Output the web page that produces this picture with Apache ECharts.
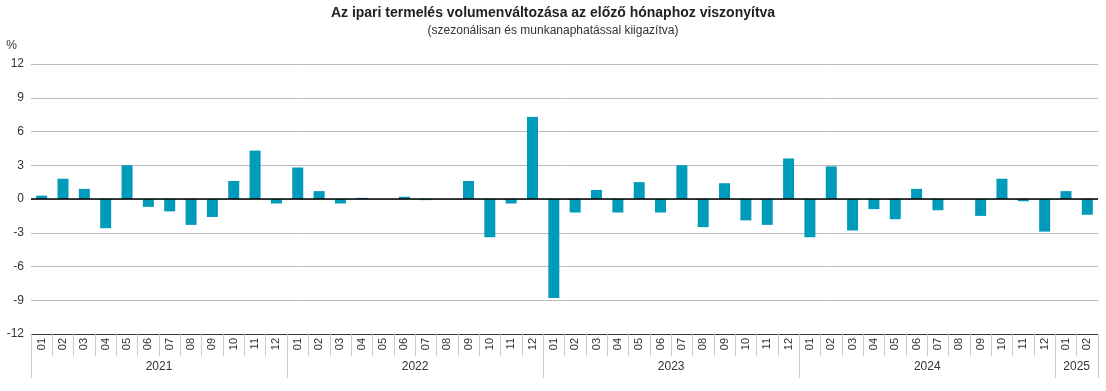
<!DOCTYPE html>
<html><head><meta charset="utf-8">
<script src="https://cdn.jsdelivr.net/npm/echarts@6/dist/echarts.min.js"></script>
<style>html,body{margin:0;padding:0;background:#fff}#c{width:1106px;height:391px}</style>
</head><body><div id="c"></div>
<script>
const months = ['01','02','03','04','05','06','07','08','09','10','11','12',
 '01','02','03','04','05','06','07','08','09','10','11','12',
 '01','02','03','04','05','06','07','08','09','10','11','12',
 '01','02','03','04','05','06','07','08','09','10','11','12',
 '01','02'];
const years = ['2021','2022','2023','2024','2025'];
const yearCenters = [6,18,30,42,49];
const values2021 = [0.3,1.8,0.9,-2.6,3.0,-0.7,-1.1,-2.3,-1.6,1.6,4.3,-0.4];
const values2022 = [2.8,0.7,-0.4,0.1,0.0,0.2,-0.1,0.0,1.6,-3.4,-0.4,7.3];
const values2023 = [-8.8,-1.2,0.8,-1.2,1.5,-1.2,3.0,-2.5,1.4,-1.9,-2.3,3.6];
const values2024 = [-3.4,2.9,-2.8,-0.9,-1.8,0.9,-1.0,0.0,-1.5,1.8,-0.2,-2.9];
const values2025 = [0.7,-1.4];
const values = [].concat(values2021,values2022,values2023,values2024,values2025);
const yTicks = [-12,-9,-6,-3,0,3,6,9,12];

const chart = echarts.init(document.getElementById('c'));
const FONT = '"Liberation Sans", Arial, sans-serif';
chart.setOption({
  animation:false,
  textStyle:{fontFamily:FONT},
  title:{
    text:'Az ipari termelés volumenváltozása az előző hónaphoz viszonyítva',
    subtext:'(szezonálisan és munkanaphatással kiigazítva)',
    left:'center', top:1, itemGap:5,
    textStyle:{fontFamily:FONT,fontSize:14,fontWeight:'bold',color:'#222'},
    subtextStyle:{fontFamily:FONT,fontSize:12,color:'#333'}
  },
  grid:{left:31,right:8,top:64,bottom:57,containLabel:false},
  xAxis:[
    {type:'category',data:months,position:'bottom',
     axisLine:{onZero:false,lineStyle:{color:'#333',width:1}},
     axisTick:{show:true,length:22,lineStyle:{color:'#ccc'}},
     axisLabel:{rotate:90,fontSize:11,color:'#333',margin:4,interval:0,fontFamily:FONT},
     splitLine:{show:false}},
    {type:'value',min:0,max:50,interval:1,position:'bottom',
     axisLine:{show:false},axisTick:{show:false},splitLine:{show:false},
     axisLabel:{fontSize:12,color:'#333',margin:27,showMinLabel:true,showMaxLabel:true,fontFamily:FONT,
       formatter:function(v){const i=yearCenters.indexOf(v);return i>=0?years[i]:'';}}},
    {type:'value',min:0,max:50,interval:12,position:'bottom',
     axisLine:{show:false},axisLabel:{show:false},splitLine:{show:false},
     axisTick:{show:true,length:44,lineStyle:{color:'#ccc'}}}
  ],
  yAxis:{type:'value',min:-12,max:12,interval:3,
    name:'%',nameLocation:'end',nameGap:12,
    nameTextStyle:{align:'right',padding:[0,14,0,0],fontSize:12,color:'#333',fontFamily:FONT},
    axisLine:{show:false},axisTick:{show:false},
    axisLabel:{fontSize:12,color:'#333',margin:7,fontFamily:FONT,
      formatter:function(v){return yTicks.indexOf(v)>=0?String(v):'';}},
    splitLine:{show:true,lineStyle:{color:'#bbb',width:1}}
  },
  series:[{type:'bar',data:values,barWidth:11,xAxisIndex:0,
    itemStyle:{color:'#009bbb'},
    markLine:{silent:true,symbol:'none',label:{show:false},
      lineStyle:{color:'#000',width:1.5,type:'solid'},data:[{yAxis:0}]}
  }]
});
</script></body></html>
